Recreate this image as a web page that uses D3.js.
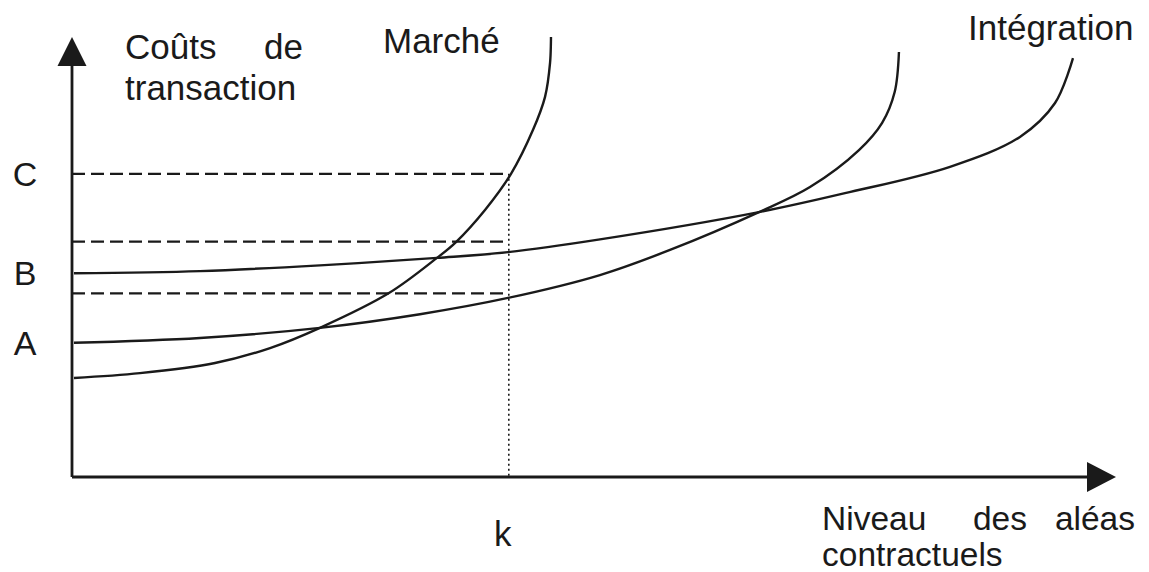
<!DOCTYPE html>
<html>
<head>
<meta charset="utf-8">
<script src="https://cdn.jsdelivr.net/npm/d3@7"></script>
<style>
  html, body { margin: 0; padding: 0; background: #fff; }
  svg { display: block; }
  text { font-family: "Liberation Sans", Arial, sans-serif; fill: #1a1a1a; }
</style>
</head>
<body>
<svg id="chart" width="1149" height="572"></svg>
<script>
// ---- data (x = niveau des aléas, y = coûts, 0..100) ----
const marcheX = [0.19, 6.51, 13.70, 18.97, 23.75, 30.36, 34.96, 36.78, 39.56, 42.05, 44.16, 45.31, 45.79, 45.88];
const marcheY = [22.5, 23.6, 25.9, 29.3, 33.9, 41.8, 49.8, 53.4, 60.7, 68.9, 78.9, 86.4, 94.1, 100];

const hybrideX = [0.19, 12.26, 23.75, 33.33, 41.76, 50.57, 57.28, 65.80, 70.69, 75.38, 77.60, 78.80, 79.21];
const hybrideY = [30.5, 31.6, 33.9, 37.0, 40.7, 45.9, 51.6, 60.2, 65.9, 74.3, 80.5, 87.5, 96.6];

const integrationX = [0.19, 12.26, 23.75, 34.96, 41.76, 50.57, 65.80, 74.04, 84.10, 90.80, 94.16, 95.88];
const integrationY = [46.3, 46.8, 48.1, 49.8, 51.1, 54.0, 60.2, 64.5, 70.5, 77.3, 85.0, 95.2];

const dashLevels  = [68.9, 53.5, 41.75];
const labelLevels = [{name: "C", y: 68.9}, {name: "B", y: 46.3}, {name: "A", y: 30.5}];
const kValue = 41.84;
const kLabel = "k";

// ---- layout ----
const svg = d3.select("#chart");
const x = d3.scaleLinear().domain([0, 100]).range([72, 1116]);
const y = d3.scaleLinear().domain([0, 100]).range([477, 37]);
const ink = "#1a1a1a";

const zip = (xs, ys) => xs.map((v, i) => [v, ys[i]]);
const line = d3.line().x(d => x(d[0])).y(d => y(d[1])).curve(d3.curveCatmullRom.alpha(0.5));

// dashed reference levels
svg.selectAll("line.dash").data(dashLevels).enter().append("line")
  .attr("x1", x(0)).attr("x2", x(kValue))
  .attr("y1", d => y(d)).attr("y2", d => y(d))
  .attr("stroke", ink).attr("stroke-width", 2.2).attr("stroke-dasharray", "13,6");

// dotted vertical at k
svg.append("line")
  .attr("x1", x(kValue)).attr("x2", x(kValue))
  .attr("y1", y(dashLevels[0])).attr("y2", y(0))
  .attr("stroke", ink).attr("stroke-width", 1.6).attr("stroke-dasharray", "2,3");

// curves
[zip(marcheX, marcheY), zip(hybrideX, hybrideY), zip(integrationX, integrationY)].forEach(pts => {
  svg.append("path").attr("d", line(pts))
    .attr("fill", "none").attr("stroke", ink).attr("stroke-width", 2.4);
});

// axes
svg.append("line").attr("x1", x(0)).attr("x2", x(0)).attr("y1", y(0)).attr("y2", y(94))
  .attr("stroke", ink).attr("stroke-width", 2.8);
svg.append("line").attr("x1", x(0)).attr("x2", x(97.5)).attr("y1", y(0)).attr("y2", y(0))
  .attr("stroke", ink).attr("stroke-width", 2.8);
// arrowheads
svg.append("path")
  .attr("d", `M${x(0)},${y(100)} L${x(0) - 14.5},${y(100) + 29} L${x(0) + 14.5},${y(100) + 29} Z`)
  .attr("fill", ink);
svg.append("path")
  .attr("d", `M${x(100)},${y(0)} L${x(100) - 29},${y(0) - 15} L${x(100) - 29},${y(0) + 15} Z`)
  .attr("fill", ink);

// level labels
svg.selectAll("text.lvl").data(labelLevels).enter().append("text")
  .attr("x", 25).attr("y", d => y(d.y) + 12)
  .attr("text-anchor", "middle").attr("font-size", 34).text(d => d.name);

// k label
svg.append("text").attr("x", x(kValue) - 6).attr("y", 546)
  .attr("text-anchor", "middle").attr("font-size", 35).text(kLabel);

// titles
const fs = 35;
svg.append("text").attr("x", 125).attr("y", 59).attr("font-size", fs).text("Coûts");
svg.append("text").attr("x", 303).attr("y", 59).attr("text-anchor", "end").attr("font-size", fs).text("de");
svg.append("text").attr("x", 125).attr("y", 100).attr("font-size", fs).text("transaction");
svg.append("text").attr("x", 383).attr("y", 53).attr("font-size", fs).text("Marché");
svg.append("text").attr("x", 968).attr("y", 40).attr("font-size", fs).text("Intégration");

const fx = 33.5;
svg.append("text").attr("x", 822).attr("y", 530).attr("font-size", fx).text("Niveau");
svg.append("text").attr("x", 1000).attr("y", 530).attr("text-anchor", "middle").attr("font-size", fx).text("des");
svg.append("text").attr("x", 1135).attr("y", 530).attr("text-anchor", "end").attr("font-size", fx).text("aléas");
svg.append("text").attr("x", 822).attr("y", 566).attr("font-size", fx).text("contractuels");
</script>
</body>
</html>
